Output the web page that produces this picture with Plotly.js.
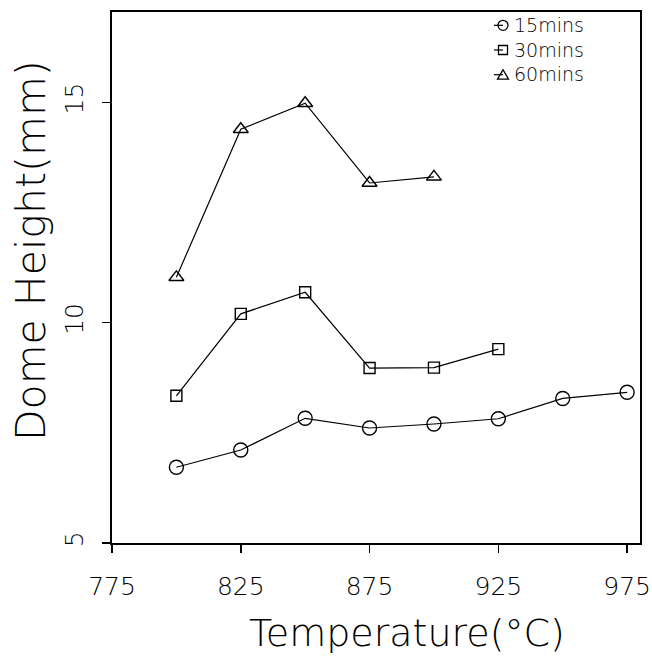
<!DOCTYPE html>
<html>
<head>
<meta charset="utf-8">
<script src="https://cdn.plot.ly/plotly-3.0.1.min.js"></script>
<style>
  html, body { margin: 0; padding: 0; background: #ffffff; }
  #chart { width: 652px; height: 663px; }
</style>
</head>
<body>
<div id="chart"></div>
<script>
// Dome height against forming temperature, one series per holding time
const temps15 = [800, 825, 850, 875, 900, 925, 950, 975];
const height15 = [6.72, 7.11, 7.83, 7.61, 7.70, 7.82, 8.28, 8.42];

const temps30 = [800, 825, 850, 875, 900, 925];
const height30 = [8.34, 10.2, 10.69, 8.97, 8.98, 9.40];

const temps60 = [800, 825, 850, 875, 900];
const height60 = [11.03, 14.39, 14.98, 13.17, 13.31];

const seriesNames = ['15mins', '30mins', '60mins'];
const xTickVals = [775, 825, 875, 925, 975];
const yTickVals = [5, 10, 15];

const FONT = 'DejaVu Sans ExtraLight, DejaVu Sans, sans-serif';

// plot area in pixels (matches the margins below)
const PLOT_L = 112, PLOT_T = 12, PLOT_W = 528, PLOT_H = 531;
const px2paperX = px => (px - PLOT_L) / PLOT_W;
const px2paperY = py => 1 - (py - PLOT_T) / PLOT_H;

function series(x, y, name, symbol, size) {
  return {
    x: x, y: y, name: name,
    type: 'scatter', mode: 'lines+markers', showlegend: false,
    line: { color: '#000', width: 1.2 },
    marker: { symbol: symbol, size: size, color: '#000',
              line: { color: '#000', width: 1.4 } }
  };
}

const data = [
  series(temps15, height15, seriesNames[0], 'circle-open', 14),
  series(temps30, height30, seriesNames[1], 'square-open', 11),
  series(temps60, height60, seriesNames[2], 'triangle-up-open', 13)
];

// compact key in the upper right: one three-line label block, and a
// short stub plus symbol drawn level with each line
const KEY_FONT = 19;
const KEY_LINE = 1.3 * KEY_FONT;          // plotly's multi-line spacing
const KEY_CENTER_PY = 50;
const keySymbolX = px2paperX(503);
const keyTextX = px2paperX(513);
const keyShapes = [];
seriesNames.forEach((name, i) => {
  const y = px2paperY(KEY_CENTER_PY + (i - 1) * KEY_LINE);
  const anchor = { xref: 'paper', yref: 'paper', xsizemode: 'pixel', ysizemode: 'pixel',
                   xanchor: keySymbolX, yanchor: y };
  keyShapes.push(Object.assign({ type: 'line', x0: -9, x1: 0, y0: 0, y1: 0,
                                 line: { color: '#000', width: 1.2 } }, anchor));
  if (i === 0) {
    keyShapes.push(Object.assign({ type: 'circle', x0: -5, x1: 5, y0: -5, y1: 5,
                                   line: { color: '#000', width: 1.3 } }, anchor));
  } else if (i === 1) {
    keyShapes.push(Object.assign({ type: 'rect', x0: -4.5, x1: 4.5, y0: -4.5, y1: 4.5,
                                   line: { color: '#000', width: 1.3 } }, anchor));
  } else {
    keyShapes.push(Object.assign({ type: 'path', path: 'M-5.5,-4.5 L5.5,-4.5 L0,5 Z',
                                   line: { color: '#000', width: 1.3 } }, anchor));
  }
});

const layout = {
  width: 652, height: 663,
  margin: { l: PLOT_L, r: 652 - PLOT_L - PLOT_W, t: PLOT_T, b: 663 - PLOT_T - PLOT_H },
  paper_bgcolor: '#fff', plot_bgcolor: '#fff',
  font: { family: FONT, color: '#000', weight: 200 },
  showlegend: false,
  xaxis: {
    range: [775, 980], tickvals: xTickVals, ticktext: xTickVals.map(String),
    ticks: 'outside', ticklen: 8, tickwidth: 1.5, tickcolor: '#000',
    ticklabelstandoff: 12,
    tickfont: { family: FONT, size: 25, color: '#000', weight: 200 },
    showline: true, linecolor: '#000', linewidth: 1.6, mirror: true,
    showgrid: false, zeroline: false
  },
  yaxis: {
    range: [5, 17.05], tickvals: yTickVals, ticktext: yTickVals.map(String),
    ticks: 'outside', ticklen: 8, tickwidth: 1.5, tickcolor: '#000',
    tickangle: -90, ticklabelstandoff: 9,
    tickfont: { family: FONT, size: 25, color: '#000', weight: 200 },
    showline: true, linecolor: '#000', linewidth: 1.6, mirror: true,
    showgrid: false, zeroline: false
  },
  shapes: keyShapes,
  annotations: [
    {
      text: seriesNames.join('<br>'), xref: 'paper', yref: 'paper',
      x: keyTextX, y: px2paperY(KEY_CENTER_PY), xanchor: 'left', yanchor: 'middle',
      align: 'left', showarrow: false, borderpad: 0,
      font: { family: FONT, size: KEY_FONT, color: '#000', weight: 200 }
    },
    {
      text: 'Temperature(°C)', xref: 'paper', yref: 'paper',
      x: px2paperX(407), y: px2paperY(633), xanchor: 'center', yanchor: 'middle',
      showarrow: false,
      font: { family: FONT, size: 38, color: '#000', weight: 200 }
    },
    {
      text: 'Dome Height(mm)', xref: 'paper', yref: 'paper',
      x: px2paperX(31), y: px2paperY(251), xanchor: 'center', yanchor: 'middle',
      textangle: -90, showarrow: false,
      font: { family: FONT, size: 41, color: '#000', weight: 200 }
    }
  ]
};

Plotly.newPlot('chart', data, layout, { displayModeBar: false, staticPlot: true });
</script>
</body>
</html>
